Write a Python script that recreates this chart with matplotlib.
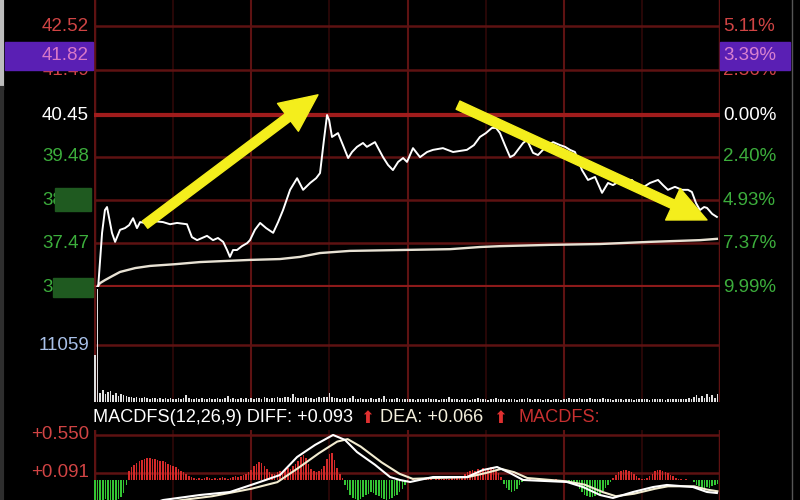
import matplotlib.pyplot as plt
import matplotlib.transforms as mtransforms
from matplotlib.patches import Rectangle

plt.rcParams['font.family'] = ['Liberation Sans', 'DejaVu Sans']

# --- Data ---
# intraday price (minutes from open, price)
price_t = [0, 1.2, 2.7, 3.8, 4.6, 6.5, 7.7, 9.6, 11.5, 13.1, 14.6, 16.1, 17.3, 19.2, 23.0, 26.1,
           28.8, 31.5, 35.3, 37.2, 39.2, 41.1, 43.0, 45.3, 47.2, 49.2, 50.7, 51.8, 53.0, 54.5,
           56.4, 58.4, 59.5, 61.4, 63.4, 65.7, 68.4, 70.3, 72.2, 74.9, 77.6, 79.9, 82.6, 84.9,
           86.4, 87.9, 89.1, 89.9, 91.0, 93.3, 95.2, 97.2, 98.7, 100.6, 102.9, 104.4, 107.5,
           110.6, 112.5, 114.4, 116.4, 118.3, 119.8, 122.1, 124.8, 127.5, 129.8, 133.6, 137.5,
           142.8, 145.5, 147.8, 150.1, 152.4, 154.0, 155.5, 157.4, 159.4, 160.9, 162.4, 164.4,
           165.9, 168.2, 170.1, 172.0, 174.0, 175.9, 178.6, 180.5, 182.4, 184.3, 187.0, 189.3,
           192.0, 194.7, 197.0, 198.9, 200.8, 203.5, 206.2, 208.1, 210.0, 213.1, 216.2, 218.1,
           220.0, 222.7, 225.4, 227.7, 229.2, 230.8, 232.3, 233.9, 235.0, 237.0, 238.8]
price = [36.38, 36.45, 37.71, 38.24, 38.31, 37.71, 37.50, 37.78, 37.82, 37.89, 38.05, 37.82, 37.96,
         37.94, 37.98, 37.96, 37.91, 37.94, 37.91, 37.61, 37.54, 37.59, 37.64, 37.54, 37.59, 37.50,
         37.31, 37.15, 37.31, 37.31, 37.40, 37.47, 37.54, 37.78, 37.94, 37.82, 37.71, 37.96, 38.24,
         38.71, 38.98, 38.71, 38.87, 38.98, 39.10, 39.87, 40.45, 40.33, 39.94, 40.03, 39.75, 39.45,
         39.59, 39.71, 39.80, 39.71, 39.82, 39.47, 39.29, 39.17, 39.36, 39.45, 39.36, 39.68, 39.47,
         39.59, 39.64, 39.68, 39.59, 39.64, 39.75, 39.94, 40.03, 40.15, 40.15, 40.03, 39.75, 39.47,
         39.52, 39.64, 39.80, 39.87, 39.57, 39.52, 39.64, 39.75, 39.82, 39.75, 39.71, 39.64, 39.59,
         39.17, 38.94, 39.01, 38.64, 38.87, 38.82, 38.89, 38.94, 38.94, 38.80, 38.75, 38.87, 38.94,
         38.82, 38.71, 38.78, 38.71, 38.71, 38.66, 38.40, 38.24, 38.31, 38.29, 38.15, 38.08]

avg_t = [0, 1.9, 3.8, 6.5, 9.6, 15.4, 21.1, 30.7, 40.3, 59.5, 71.0, 78.7, 86.4, 97.9, 117.1,
         136.3, 147.8, 155.5, 174.7, 193.9, 213.1, 232.3, 238.8]
avg_price = [36.38, 36.54, 36.61, 36.70, 36.80, 36.89, 36.94, 36.98, 37.03, 37.08, 37.10, 37.15,
             37.24, 37.29, 37.31, 37.33, 37.38, 37.40, 37.43, 37.45, 37.50, 37.54, 37.57]

left_ticks = [42.52, 41.49, 40.45, 39.48, 38.47, 37.47, 36.45]
left_labels = ['42.52', '41.49', '40.45', '39.48', '38.47', '37.47', '36.45']
right_labels = ['5.11%', '2.56%', '0.00%', '2.40%', '4.93%', '7.37%', '9.99%']
current_price = 41.82
current_pct = '3.39%'

# volume per minute
volume = [9200, 22000, 1800, 2300, 1600, 2000, 2200, 1400, 1800, 1200, 1600, 1400, 1200, 900, 1000, 800, 900, 700, 800, 900,
          700, 600, 800, 700, 600, 700, 500, 800, 600, 700, 600, 500, 700, 600, 800, 1300, 700, 600, 500, 700,
          600, 700, 500, 600, 800, 600, 500, 700, 600, 500, 700, 1200, 600, 700, 500, 600, 700, 600, 800, 600,
          700, 600, 800, 700, 600, 900, 700, 600, 800, 700, 900, 800, 700, 900, 1000, 800, 1600, 900, 700, 800,
          700, 900, 800, 700, 600, 800, 900, 700, 1000, 900, 1700, 1000, 800, 700, 600, 700, 800, 600, 700, 1100,
          600, 500, 700, 600, 500, 600, 700, 500, 600, 700, 600, 1200, 600, 500, 600, 500, 700, 600, 500, 600,
          500, 600, 500, 400, 600, 500, 600, 500, 700, 500, 600, 500, 400, 600, 500, 600, 1000, 500, 600, 500,
          400, 500, 600, 500, 400, 500, 600, 700, 500, 600, 500, 400, 600, 500, 700, 500, 600, 500, 400, 500,
          600, 500, 400, 500, 600, 500, 700, 500, 400, 500, 600, 500, 400, 600, 500, 400, 500, 600, 500, 400,
          500, 600, 700, 500, 600, 500, 800, 600, 500, 600, 700, 500, 600, 500, 600, 700, 500, 600, 500, 400,
          500, 600, 500, 400, 500, 600, 500, 400, 500, 600, 500, 600, 500, 400, 500, 600, 500, 600, 500, 400,
          500, 600, 500, 600, 500, 600, 500, 600, 700, 600, 900, 1400, 700, 1200, 800, 1600, 900, 1300, 700, 1500]
vol_ref = 11059

# MACD histogram per minute
macd_hist = ([-0.24, -0.25, -0.23, -0.24, -0.22, -0.25, -0.24, -0.23, -0.25, -0.22, -0.2, -0.15, -0.05]
             + [0.12, 0.16, 0.19, 0.21, 0.23, 0.25, 0.26, 0.27, 0.27, 0.26, 0.26, 0.25, 0.24, 0.23, 0.22,
                0.2, 0.19, 0.17, 0.16, 0.14, 0.12, 0.1, 0.08, 0.06, 0.04]
             + [0.03, 0.02, 0.03, 0.02, 0.03, 0.04, 0.03, 0.02, 0.03, 0.02, 0.03, 0.04, 0.03, 0.02, 0.03,
                0.04, 0.05, 0.04, 0.06, 0.07, 0.08, 0.1]
             + [0.13, 0.17, 0.2, 0.22, 0.21, 0.18, 0.14, 0.1, 0.08]
             + [0.08, 0.1, 0.12, 0.1, 0.13, 0.15, 0.14, 0.17, 0.2, 0.24, 0.28, 0.31, 0.27, 0.2, 0.14, 0.12,
                0.1, 0.12, 0.14, 0.18, 0.26, 0.32, 0.33, 0.25, 0.15, 0.08, 0.03]
             + [-0.05, -0.12, -0.18, -0.21, -0.22, -0.23, -0.22, -0.2, -0.18, -0.16, -0.14, -0.15, -0.17,
                -0.19, -0.21, -0.22, -0.23, -0.22, -0.21, -0.19, -0.17, -0.14, -0.1, -0.06, -0.02]
             + [0.01, 0.02, 0.01, 0.02, 0.02, 0.01, 0.02, 0.03, 0.02, 0.01, 0.02, 0.03, 0.02, 0.02, 0.03,
                0.02, 0.03, 0.04, 0.03, 0.05, 0.06, 0.08, 0.1, 0.12]
             + [0.13, 0.12, 0.14, 0.13, 0.15, 0.14, 0.15, 0.16, 0.15, 0.13, 0.09, 0.04]
             + [-0.04, -0.09, -0.12, -0.14, -0.13, -0.1, -0.06, -0.02]
             + [0.01, 0.01, 0.02, 0.01, 0.01, 0.02, 0.01, 0.01, 0.02, 0.01, 0.01, 0.01, 0.02, 0.01, 0.01,
                0.01, 0.0, -0.01, -0.02, -0.04, -0.06]
             + [-0.1, -0.14, -0.17, -0.19, -0.2, -0.2, -0.19, -0.18, -0.16, -0.13, -0.09, -0.05, -0.02]
             + [0.03, 0.07, 0.1, 0.12, 0.13, 0.13, 0.12, 0.1, 0.08, 0.05, 0.03]
             + [0.02, 0.02, 0.03]
             + [0.05, 0.08, 0.11, 0.13, 0.13, 0.12, 0.1, 0.09, 0.07, 0.05, 0.03]
             + [0.02, 0.02, 0.01, 0.02, 0.01, 0.0, -0.02]
             + [-0.05, -0.07, -0.09, -0.09, -0.08, -0.09, -0.07, -0.06, -0.04])

diff_t = [20, 26.1, 40.3, 51.8, 62.2, 71.0, 77.6, 84.5, 91.4, 96, 100.6, 107.5, 113.3, 117.1, 121,
          129.8, 142.8, 149, 154.4, 159.4, 164.4, 181.2, 187.4, 193.9, 198.9, 206.6, 214.3, 219.6,
          229.6, 235, 238.8]
diff = [-0.30, -0.236, -0.175, -0.139, -0.03, 0.066, 0.284, 0.43, 0.55, 0.49, 0.344, 0.19, 0.042,
        0.006, -0.018, 0.042, 0.042, 0.127, 0.163, 0.09, 0.006, -0.018, -0.079, -0.175, -0.211,
        -0.139, -0.079, -0.054, -0.079, -0.139, -0.151]
dea_t = [22, 30, 45, 60, 70, 78, 86, 93, 97, 102, 110, 117, 122, 130, 143, 150, 156, 161, 166, 181,
         188, 195, 200, 207, 215, 220, 230, 235, 239]
dea = [-0.30, -0.25, -0.19, -0.10, -0.02, 0.15, 0.33, 0.47, 0.50, 0.41, 0.22, 0.08, 0.02, 0.03, 0.04,
       0.09, 0.14, 0.10, 0.03, -0.01, -0.05, -0.14, -0.19, -0.16, -0.10, -0.07, -0.07, -0.11, -0.13]
macd_ticks = [0.550, 0.091]
macd_labels = ['+0.550', '+0.091']

# --- Plot ---
BG = 'black'
RED = '#d04444'
GREEN = '#3cae3c'
GRID_BRIGHT = '#8c1a1a'
GRID = '#5e1212'
GRID_DIM = '#2e0808'
FS = 13.5

fig = plt.figure(figsize=(8, 5), dpi=100, facecolor=BG)
L, W = 94 / 800, 626 / 800


def fy(y):
    return 1 - y / 500


ax_p = fig.add_axes([L, fy(287), W, 287 / 500])
ax_v = fig.add_axes([L, fy(402), W, 115 / 500], sharex=ax_p)
ax_m = fig.add_axes([L, 0, W, 70 / 500], sharex=ax_p)

for ax in (ax_p, ax_v, ax_m):
    ax.set_facecolor(BG)
    for s in ax.spines.values():
        s.set_visible(False)
    ax.tick_params(left=False, bottom=False, labelleft=False, labelbottom=False)
    ax.set_xlim(-0.4, 240)
    for t in (30, 90, 150, 210):
        ax.axvline(t, color=GRID_DIM, lw=1.2, zorder=0)
    for t in (60, 120, 180):
        ax.axvline(t, color=GRID, lw=1.5, zorder=0)
    ax.axvline(-0.4, color=GRID, lw=2.5, zorder=0)
    ax.axvline(240, color=GRID, lw=2.5, zorder=0)

# price panel
ax_p.set_ylim(36.45, 36.45 + 287 * 0.02326)
for v in left_ticks:
    if v == 40.45:
        ax_p.axhline(v, color='#a01c1c', lw=3, zorder=1)
    elif v == 36.45:
        ax_p.axhline(v, color=GRID_BRIGHT, lw=3, zorder=1)
    else:
        ax_p.axhline(v, color=GRID, lw=1.8, zorder=1)
ax_p.plot(avg_t, avg_price, color='#e8e2d4', lw=1.7, zorder=3)
ax_p.plot(price_t, price, color='white', lw=1.4, zorder=4)

arrow = dict(arrowstyle='simple,head_length=2.7,head_width=2.5,tail_width=0.65',
             mutation_scale=10, color='#f4ee1c', shrinkA=0, shrinkB=0)
ax_p.annotate('', xy=(85.6, 40.92), xytext=(19.2, 37.9), arrowprops=arrow, zorder=6)
ax_p.annotate('', xy=(235.0, 38.01), xytext=(139.4, 40.68), arrowprops=arrow, zorder=6)

trans_l = mtransforms.blended_transform_factory(fig.transFigure, ax_p.transData)
label_colors = [RED, RED, 'white', GREEN, GREEN, GREEN, GREEN]
for v, lab, rlab, c in zip(left_ticks, left_labels, right_labels, label_colors):
    ax_p.text(89 / 800, v, lab, transform=trans_l, ha='right', va='center',
              color=c, fontsize=FS, clip_on=False)
    ax_p.text(723 / 800, v, rlab, transform=trans_l, ha='left', va='center',
              color=c, fontsize=FS, clip_on=False)

# purple current-price boxes (they hide most of the 41.49 / 2.56% labels, as in the original)
fig.patches.append(Rectangle((5 / 800, fy(70)), 88 / 800, 28 / 500, transform=fig.transFigure,
                             color='#5a1fb4', zorder=5))
fig.patches.append(Rectangle((720 / 800, fy(70)), 70 / 800, 28 / 500, transform=fig.transFigure,
                             color='#5a1fb4', zorder=5))
fig.text(89 / 800, fy(56), f'{current_price:.2f}', ha='right', va='center', color='#d878c8',
         fontsize=FS, zorder=6)
fig.text(723 / 800, fy(56), current_pct, ha='left', va='center', color='#d880d0',
         fontsize=FS, zorder=6)

# green highlight boxes covering part of two labels
fig.patches.append(Rectangle((55 / 800, fy(211)), 36 / 800, 23 / 500, transform=fig.transFigure,
                             color='#1f5a20', zorder=5))
fig.patches.append(Rectangle((53 / 800, fy(297)), 40 / 800, 19 / 500, transform=fig.transFigure,
                             color='#1f5a20', zorder=5))

# volume panel
ax_v.set_ylim(0, 22300)
ax_v.axhline(vol_ref, color=GRID, lw=1.8, zorder=1)
ax_v.bar(range(len(volume)), volume, width=0.6, color='#dedede', zorder=3)
fig.text(89 / 800, fy(345), str(vol_ref), ha='right', va='center', color='#a8c0e8', fontsize=FS)

# MACD header
hdr_y = fy(418)
fig.text(93 / 800, hdr_y, 'MACDFS(12,26,9) DIFF: +0.093', ha='left', va='center', color='white',
         fontsize=13.1)
fig.text(367 / 800, hdr_y, '\u2b06', ha='center', va='center', color='#e03030', fontsize=12,
         family='DejaVu Sans')
fig.text(380 / 800, hdr_y, 'DEA: +0.066', ha='left', va='center', color='#f4f0dc', fontsize=13.1)
fig.text(500 / 800, hdr_y, '\u2b06', ha='center', va='center', color='#e03030', fontsize=12,
         family='DejaVu Sans')
fig.text(518 / 800, hdr_y, 'MACDFS:', ha='left', va='center', color='#c83030', fontsize=13.1)

# MACD panel
ax_m.set_ylim(-0.2356, 0.61)
for v in macd_ticks:
    ax_m.axhline(v, color=GRID, lw=1.8, zorder=1)
hist_colors = ['#d42a2a' if v >= 0 else '#34c434' for v in macd_hist]
ax_m.bar(range(len(macd_hist)), macd_hist, width=0.6, color=hist_colors, zorder=2)
ax_m.plot(dea_t, dea, color='#f2ecd0', lw=1.5, zorder=3)
ax_m.plot(diff_t, diff, color='white', lw=1.5, zorder=4)
trans_m = mtransforms.blended_transform_factory(fig.transFigure, ax_m.transData)
for v, lab in zip(macd_ticks, macd_labels):
    ax_m.text(89 / 800, v, lab, transform=trans_m, ha='right', va='center', color=RED,
              fontsize=FS, clip_on=False)

# frame decorations at the edges
fig.add_artist(plt.Line2D([2 / 800, 2 / 800], [fy(0), fy(88)], color='#bdbdbd', lw=3))
fig.add_artist(plt.Line2D([2 / 800, 2 / 800], [fy(88), fy(500)], color='#2e2e2e', lw=3))
fig.add_artist(plt.Line2D([792 / 800, 792 / 800], [0, 1], color='#555555', lw=1))

# --- Render ---
fig.savefig('out.png', dpi=100, facecolor=BG)
plt.close(fig)
